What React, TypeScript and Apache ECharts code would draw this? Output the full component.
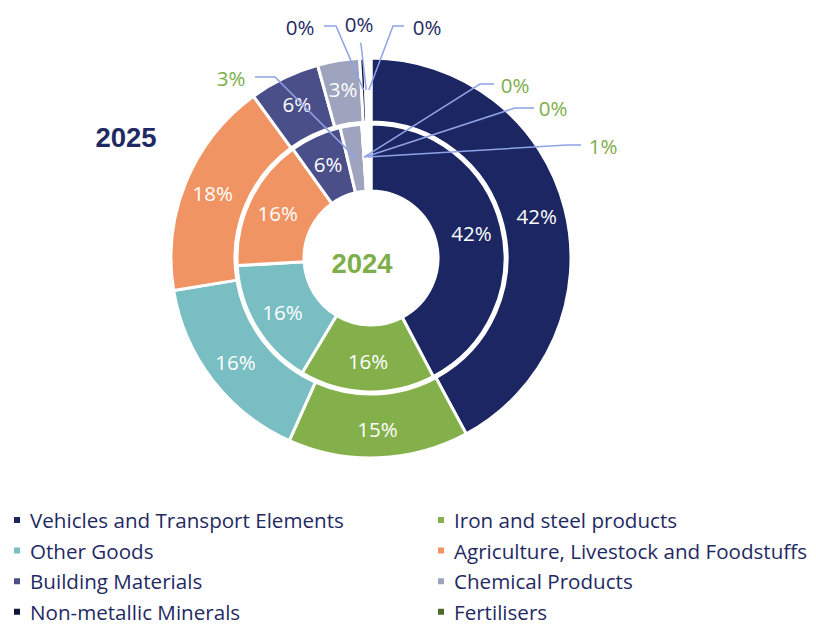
import React, { useEffect, useRef } from "react";
import * as echarts from "echarts";

const categories = [
  "Vehicles and Transport Elements",
  "Iron and steel products",
  "Other Goods",
  "Agriculture, Livestock and Foodstuffs",
  "Building Materials",
  "Chemical Products",
  "Non-metallic Minerals",
  "Fertilisers",
  "Unclassified",
];
const sliceColors = ["#1b2663", "#83b04b", "#79bec2", "#f09463", "#4a4f8a", "#9ea4be", "#0f1636", "#4c6b2b", "#ffffff"];
const values2024 = [42.3, 16.3, 15.5, 16.0, 6.2, 2.6, 0.02, 0.02, 1.06];
const values2025 = [42.1, 14.6, 15.7, 17.6, 5.7, 3.4, 0.4, 0.1, 0.4];
const legendLeft = ["Vehicles and Transport Elements", "Other Goods", "Building Materials", "Non-metallic Minerals"];
const legendRight = ["Iron and steel products", "Agriculture, Livestock and Foodstuffs", "Chemical Products", "Fertilisers"];
const yearOuter = "2025";
const yearInner = "2024";

const CX = 371;
const CY = 258;
const NAVY = "#1f2a63";
const GREEN = "#7dae4a";
const LINE = "#8fa2e6";
const FONT = "Open Sans";

type OutCfg = { x: number; y: number; elbow: number[]; end: number[] };
const outerOutside: Record<number, OutCfg> = {
  6: { x: 300, y: 27, elbow: [336, 26], end: [324, 26] },
  7: { x: 359, y: 24, elbow: [361, 44], end: [360, 43] },
  8: { x: 427, y: 27, elbow: [393, 26], end: [404, 26] },
};
const innerOutside: Record<number, OutCfg> = {
  5: { x: 231, y: 78, elbow: [275, 77], end: [255, 77] },
  6: { x: 515, y: 85, elbow: [480, 84], end: [494, 84] },
  7: { x: 553, y: 108, elbow: [515, 108], end: [534, 108] },
  8: { x: 603, y: 146, elbow: [567, 145], end: [581, 145] },
};

function midPoint(values: number[], i: number, rm: number): number[] {
  const total = values.reduce((a, b) => a + b, 0);
  let cum = 0;
  for (let j = 0; j < i; j++) cum += values[j];
  const th = ((cum + values[i] / 2) / total) * 2 * Math.PI;
  return [CX + rm * Math.sin(th), CY - rm * Math.cos(th)];
}

function buildData(values: number[], outside: Record<number, OutCfg>, outColor: string) {
  return values.map((v, i) => {
    const item: any = { name: categories[i], value: v, itemStyle: { color: sliceColors[i] } };
    if (outside[i]) {
      item.label = { position: "outside", color: outColor };
      item.labelLine = { show: false };
    }
    return item;
  });
}

function leaderLines(values: number[], outside: Record<number, OutCfg>, rm: number) {
  return Object.keys(outside).map((k) => {
    const i = Number(k);
    const c = outside[i];
    return {
      type: "polyline",
      z: 100,
      silent: true,
      shape: { points: [midPoint(values, i, rm), c.elbow, c.end] },
      style: { stroke: LINE, lineWidth: 1.5, fill: "none" },
    };
  });
}

export default function App() {
  const ref = useRef<HTMLDivElement>(null);
  useEffect(() => {
    if (!ref.current) return;
    const chart = echarts.init(ref.current, undefined, { renderer: "svg" });
    const labelBase = {
      show: true,
      position: "inside",
      color: "#ffffff",
      fontFamily: FONT,
      fontSize: 20.5,
      formatter: (p: any) => Math.round(p.value) + "%",
    };
    const legendBase = {
      orient: "vertical",
      top: 509,
      padding: 0,
      itemWidth: 8,
      itemHeight: 8,
      itemGap: 8.6,
      icon: "rect",
      selectedMode: false,
      textStyle: { fontFamily: FONT, fontSize: 20.6, color: NAVY, lineHeight: 22, padding: [0, 0, 0, 4] },
    };
    const mkLayout = (outside: Record<number, OutCfg>) => (p: any) => {
      const c = outside[p.dataIndex];
      if (!c) return {};
      return { x: c.x, y: c.y, align: "center", verticalAlign: "middle" };
    };
    chart.setOption({
      animation: false,
      backgroundColor: "#ffffff",
      legend: [
        { ...legendBase, left: 12, data: legendLeft },
        { ...legendBase, left: 436, data: legendRight },
      ],
      graphic: [
        {
          type: "text",
          x: 126,
          y: 137,
          style: {
            text: yearOuter,
            fill: NAVY,
            fontFamily: "Liberation Sans",
            fontWeight: "bold",
            fontSize: 27.5,
            align: "center",
            verticalAlign: "middle",
          },
        },
        {
          type: "text",
          x: 362,
          y: 263,
          style: {
            text: yearInner,
            fill: GREEN,
            fontFamily: "Liberation Sans",
            fontWeight: "bold",
            fontSize: 27.5,
            align: "center",
            verticalAlign: "middle",
          },
        },
        ...leaderLines(values2025, outerOutside, 168),
        ...leaderLines(values2024, innerOutside, 101),
      ],
      series: [
        {
          type: "pie",
          name: yearInner,
          center: [CX, CY],
          radius: [67, 134],
          startAngle: 90,
          clockwise: true,
          avoidLabelOverlap: false,
          itemStyle: { borderColor: "#ffffff", borderWidth: 3 },
          label: labelBase,
          labelLine: { show: false },
          emphasis: { disabled: true },
          data: buildData(values2024, innerOutside, GREEN),
          labelLayout: mkLayout(innerOutside),
        },
        {
          type: "pie",
          name: yearOuter,
          center: [CX, CY],
          radius: [136, 200],
          startAngle: 90,
          clockwise: true,
          avoidLabelOverlap: false,
          itemStyle: { borderColor: "#ffffff", borderWidth: 3 },
          label: labelBase,
          labelLine: { show: false },
          emphasis: { disabled: true },
          data: buildData(values2025, outerOutside, NAVY),
          labelLayout: mkLayout(outerOutside),
        },
      ],
    });
    return () => chart.dispose();
  }, []);
  return <div ref={ref} style={{ position: "fixed", left: 0, top: 0, width: 816, height: 625 }} />;
}
